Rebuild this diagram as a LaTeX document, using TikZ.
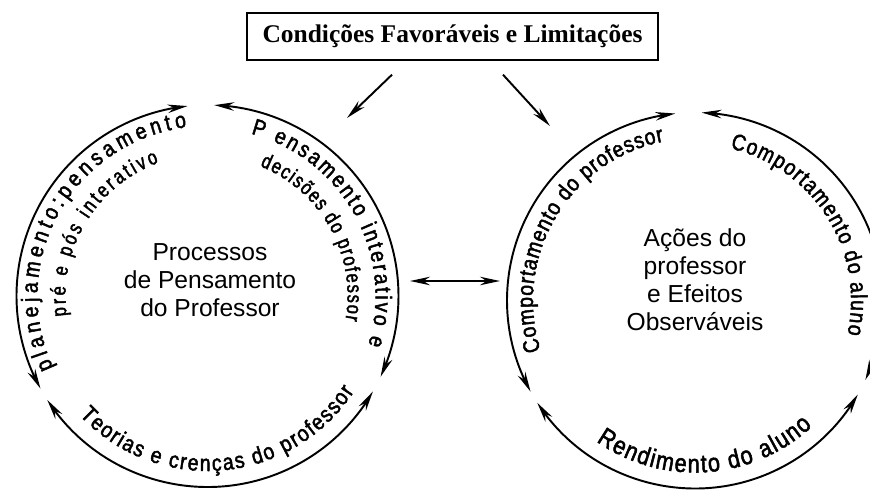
\documentclass[tikz,border=0pt]{standalone}
\usepackage{fontspec}
\setmainfont{Liberation Sans}
\newfontfamily\caixafonte{Liberation Serif}
\newfontfamily\arcofam[FakeBold=2,FakeStretch=0.85]{Liberation Sans}
\newfontfamily\arcofamint[FakeBold=2,FakeStretch=0.78]{Liberation Sans}
\usetikzlibrary{arrows.meta}
\usetikzlibrary{bending}
\usetikzlibrary{calc,decorations.text}

\newcommand{\arcofonte}{\arcofam\fontsize{13}{15}\selectfont}
\newcommand{\arcofonteint}{\arcofamint\fontsize{12}{14}\selectfont}
\newcommand{\arcofontegr}{\arcofam\fontsize{14.5}{16}\selectfont}

\tikzset{
    ciclo/.style={line width=1.1pt, <->},
    seta/.style={line width=1.1pt},
    arcotexto/.style={decorate, decoration={text along path, text align=fit to path, text={|\arcofonte|#1}}},
    arcotextoint/.style={decorate, decoration={text along path, text align=fit to path, text={|\arcofonteint|#1}}},
    arcotextogr/.style={decorate, decoration={text along path, text align=fit to path, text={|\arcofontegr|#1}}},
    centro/.style={align=center, font=\fontsize{14}{16}\selectfont},
    caixa/.style={draw, line width=0.8pt, minimum width=8.22cm, minimum height=0.94cm,
        font=\caixafonte\bfseries\fontsize{14.5}{16}\selectfont},
}

\begin{document}
\begin{tikzpicture}[>={Stealth[length=4mm,width=1.7mm]}, x=0.02cm, y=0.02cm]

    \useasboundingbox (0,0) rectangle (870,490);

    \coordinate (pensar) at (207.5,194);
    \coordinate (agir) at (695,189.5);

    % the three double arrows of each cycle
    \foreach \c/\r in {pensar/191, agir/188} {
        \draw[ciclo] ($(\c)+(96:\r)$) arc[start angle=96, end angle=209, radius=\r];
        \draw[ciclo] ($(\c)+(88:\r)$) arc[start angle=88, end angle=-25, radius=\r];
        \draw[ciclo] ($(\c)+(213:\r)$) arc[start angle=213, end angle=330, radius=\r];
    }

    % texts along the left cycle
    \path[arcotexto={planejamento:pensamento}] ($(pensar)+(205:170)$) arc[start angle=205, end angle=97, radius=170];
    \path[arcotextoint={pré e pós interativo}] ($(pensar)+(188:142)$) arc[start angle=188, end angle=110, radius=142];
    \path[arcotexto={P ensamento interativo e}] ($(pensar)+(75:168)$) arc[start angle=75, end angle=-17, radius=168];
    \path[arcotextoint={decisões do professor}] ($(pensar)+(68:140)$) arc[start angle=68, end angle=-10, radius=140];
    \path[arcotexto={Teorias e crenças do professor}] ($(pensar)+(223:175)$) arc[start angle=223, end angle=327, radius=175];

    % texts along the right cycle
    \path[arcotexto={Comportamento do professor}] ($(agir)+(198:162)$) arc[start angle=198, end angle=101, radius=162];
    \path[arcotexto={Comportamento do aluno}] ($(agir)+(77:156)$) arc[start angle=77, end angle=-12.5, radius=156];
    \path[arcotextogr={Rendimento do aluno}] ($(agir)+(235:172)$) arc[start angle=235, end angle=313, radius=172];

    \node[centro] (tpensar) at (210,210) {Processos\\de Pensamento\\do Professor};
    \node[centro] (tagir) at (695,210) {Ações do\\professor\\e Efeitos\\Observáveis};

    \node[caixa] (condicoes) at (452.5,453.5) {Condições Favoráveis e Limitações};

    \coordinate (de1) at ($(condicoes.south)+(-60.5,-14)$);
    \coordinate (para1) at (347,372);
    \coordinate (de2) at ($(condicoes.south)+(50.5,-14)$);
    \coordinate (para2) at (550,364);
    \draw[seta,->] (de1) -- (para1);
    \draw[seta,->] (de2) -- (para2);

    \coordinate (ligaE) at (410,209);
    \coordinate (ligaD) at (500,209);
    \draw[seta,<->] (ligaE) -- (ligaD);

\end{tikzpicture}
\end{document}
